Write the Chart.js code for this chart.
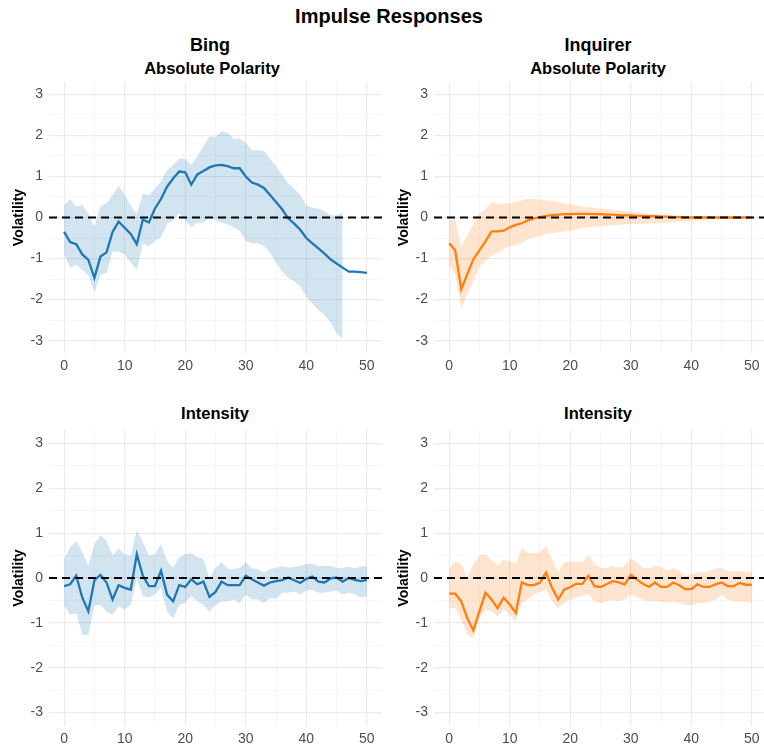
<!DOCTYPE html>
<html>
<head>
<meta charset="utf-8">
<title>Impulse Responses</title>
<script src="https://cdn.jsdelivr.net/npm/chart.js@4.4.1/dist/chart.umd.min.js"></script>
<style>
  html, body { margin: 0; padding: 0; background: #fff; overflow: hidden; }
  body { width: 764px; height: 750px; position: relative; font-family: "Liberation Sans", Arial, sans-serif; }
  .lbl { position: absolute; transform: translate(-50%, -50%); font-weight: bold; color: #000; white-space: nowrap; line-height: 1; }
  canvas { position: absolute; }
</style>
</head>
<body>
<div class="lbl" style="left:389px;top:16px;font-size:20px">Impulse Responses</div>
<div class="lbl" style="left:210px;top:45px;font-size:18px">Bing</div>
<div class="lbl" style="left:212px;top:68px;font-size:16.5px">Absolute Polarity</div>
<div class="lbl" style="left:598px;top:45px;font-size:18px">Inquirer</div>
<div class="lbl" style="left:598px;top:68px;font-size:16.5px">Absolute Polarity</div>
<div class="lbl" style="left:215px;top:413px;font-size:16.5px">Intensity</div>
<div class="lbl" style="left:598px;top:413px;font-size:16.5px">Intensity</div>

<canvas id="bingPolarity" width="382" height="294" style="left:0;top:82px"></canvas>
<canvas id="inquirerPolarity" width="382" height="294" style="left:385px;top:82px"></canvas>
<canvas id="bingIntensity" width="382" height="320" style="left:0;top:430px"></canvas>
<canvas id="inquirerIntensity" width="382" height="320" style="left:385px;top:430px"></canvas>

<script>
// horizons (x axis) and tick positions
const horizons = [0,1,2,3,4,5,6,7,8,9,10,11,12,13,14,15,16,17,18,19,20,21,22,23,24,25,
  26,27,28,29,30,31,32,33,34,35,36,37,38,39,40,41,42,43,44,45,46,47,48,49,50];
const xTicks = [0,5,10,15,20,25,30,35,40,45,50];
const yTicks = [-3,-2.5,-2,-1.5,-1,-0.5,0,0.5,1,1.5,2,2.5,3];
const zeroLineX = [-2.5, 52.5];

// Bing - Absolute Polarity
const bingPolarityIrf = [-0.35,-0.6,-0.65,-0.9,-1.03,-1.47,-0.95,-0.85,-0.35,-0.1,
  -0.25,-0.4,-0.65,-0.05,-0.12,0.22,0.45,0.75,0.95,1.12,
  1.1,0.8,1.05,1.13,1.22,1.27,1.28,1.25,1.2,1.2,
  1.0,0.85,0.8,0.72,0.55,0.38,0.2,-0.02,-0.15,-0.3,
  -0.5,-0.63,-0.75,-0.88,-1.02,-1.12,-1.22,-1.32,-1.32,-1.33,-1.35];
const bingPolarityUpper = [0.3,0.45,0.27,0.3,0.1,-0.22,0.28,0.35,0.55,0.78,
  0.55,0.28,0.08,0.58,0.55,0.7,0.88,1.15,1.28,1.43,
  1.43,1.27,1.5,1.73,1.98,1.96,2.1,2.06,1.92,1.92,
  1.82,1.64,1.64,1.62,1.43,1.25,1.04,0.83,0.7,0.55,
  0.3,0.24,0.22,0.15,0.05,0.05,0.13,null,null,null,null];
const bingPolarityLower = [-0.9,-1.22,-1.15,-1.27,-1.4,-1.82,-1.4,-1.35,-0.83,-0.83,
  -0.9,-1.1,-1.27,-0.63,-0.7,-0.57,-0.48,-0.15,-0.07,0.1,
  -0.07,-0.23,-0.13,-0.12,0.0,-0.07,-0.12,-0.17,-0.23,-0.32,
  -0.57,-0.63,-0.63,-0.7,-0.85,-1.1,-1.32,-1.47,-1.55,-1.68,
  -1.93,-2.1,-2.25,-2.38,-2.55,-2.83,-2.95,null,null,null,null];

// Inquirer - Absolute Polarity
const inquirerPolarityIrf = [-0.63,-0.8,-1.75,-1.38,-1.02,-0.8,-0.58,-0.34,-0.34,-0.32,
  -0.24,-0.18,-0.14,-0.07,-0.02,0.01,0.04,0.06,0.07,0.08,
  0.08,0.09,0.09,0.09,0.08,0.08,0.07,0.07,0.06,0.05,
  0.05,0.04,0.04,0.03,0.03,0.02,0.02,0.01,0.01,0.01,
  0,0,0,0,0,0,0,0,0,0,0];
const inquirerPolarityUpper = [-0.07,-0.05,-0.7,-0.45,-0.15,0.1,0.2,0.38,0.34,0.34,
  0.35,0.38,0.42,0.45,0.45,0.44,0.42,0.4,0.38,0.35,
  0.32,0.3,0.27,0.25,0.24,0.22,0.2,0.19,0.17,0.16,
  0.14,0.12,0.11,0.09,0.08,0.07,0.06,0.06,0.05,0.04,
  0.04,0.03,0.03,0.02,0.02,0.02,0.01,0.01,0.01,0.01,0.01];
const inquirerPolarityLower = [-1.15,-1.38,-2.2,-1.88,-1.55,-1.22,-1.05,-0.93,-0.85,-0.77,
  -0.7,-0.68,-0.62,-0.53,-0.49,-0.45,-0.4,-0.38,-0.36,-0.34,
  -0.32,-0.29,-0.26,-0.24,-0.22,-0.21,-0.2,-0.19,-0.18,-0.17,
  -0.16,-0.15,-0.15,-0.14,-0.14,-0.13,-0.12,-0.11,-0.1,-0.09,
  -0.08,-0.07,-0.06,-0.05,-0.04,-0.04,-0.03,-0.03,-0.02,-0.02,-0.02];

// Bing - Intensity
const bingIntensityIrf = [-0.18,-0.14,0.05,-0.44,-0.74,-0.05,0.07,-0.1,-0.48,-0.16,
  -0.22,-0.26,0.53,0.05,-0.18,-0.18,0.16,-0.37,-0.52,-0.16,
  -0.2,-0.03,-0.14,-0.08,-0.42,-0.31,-0.08,-0.16,-0.16,-0.16,
  0.05,-0.03,-0.1,-0.17,-0.1,-0.07,-0.05,0.01,-0.05,-0.11,
  -0.02,0.03,-0.08,-0.1,-0.01,0.01,-0.08,0.0,-0.04,-0.07,-0.04];
const bingIntensityUpper = [0.42,0.68,0.83,0.57,0.27,0.76,0.95,0.83,0.5,0.65,
  0.53,0.5,1.06,0.8,0.5,0.53,0.76,0.38,0.23,0.46,
  0.53,0.55,0.46,0.42,0.0,0.23,0.35,0.2,0.2,0.23,
  0.35,0.22,0.2,0.12,0.2,0.23,0.27,0.23,0.25,0.27,
  0.31,0.32,0.27,0.27,0.27,0.22,0.23,0.25,0.22,0.25,0.27];
const bingIntensityLower = [-0.6,-0.83,-0.78,-1.27,-1.27,-0.61,-0.6,-0.75,-0.82,-0.63,
  -0.7,-0.6,0.0,-0.4,-0.44,-0.37,-0.22,-0.75,-0.9,-0.6,
  -0.56,-0.4,-0.52,-0.6,-0.75,-0.6,-0.52,-0.52,-0.48,-0.56,
  -0.37,-0.48,-0.48,-0.56,-0.44,-0.46,-0.33,-0.33,-0.3,-0.37,
  -0.28,-0.26,-0.33,-0.33,-0.3,-0.28,-0.37,-0.33,-0.37,-0.44,-0.4];

// Inquirer - Intensity
const inquirerIntensityIrf = [-0.35,-0.35,-0.52,-0.9,-1.17,-0.74,-0.33,-0.48,-0.67,-0.44,
  -0.59,-0.78,-0.1,-0.16,-0.16,-0.1,0.12,-0.22,-0.48,-0.26,
  -0.2,-0.13,-0.13,0.05,-0.18,-0.2,-0.14,-0.07,-0.1,-0.14,
  0.07,-0.03,-0.13,-0.2,-0.1,-0.2,-0.2,-0.1,-0.16,-0.25,
  -0.25,-0.14,-0.2,-0.2,-0.14,-0.1,-0.18,-0.18,-0.11,-0.15,-0.15];
const inquirerIntensityUpper = [0.2,0.38,0.31,0.0,0.31,0.5,0.52,0.4,0.27,0.42,
  0.38,0.31,0.68,0.56,0.56,0.57,0.72,0.42,0.12,0.35,
  0.37,0.37,0.35,0.52,0.31,0.23,0.22,0.27,0.23,0.27,
  0.44,0.35,0.23,0.2,0.27,0.25,0.17,0.22,0.17,0.05,
  0.08,0.14,0.12,0.16,0.22,0.22,0.16,0.14,0.16,0.14,0.14];
const inquirerIntensityLower = [-0.67,-0.67,-0.93,-1.27,-1.33,-0.9,-0.7,-0.74,-0.86,-0.7,
  -0.82,-0.97,-0.56,-0.48,-0.37,-0.31,-0.26,-0.52,-0.67,-0.56,
  -0.48,-0.44,-0.4,-0.35,-0.52,-0.56,-0.52,-0.48,-0.52,-0.48,
  -0.37,-0.43,-0.48,-0.52,-0.5,-0.53,-0.56,-0.52,-0.56,-0.6,
  -0.6,-0.56,-0.56,-0.53,-0.48,-0.37,-0.48,-0.52,-0.52,-0.53,-0.56];

const BLUE = '#1f77b4';
const ORANGE = '#ff7f0e';
const FONT = '"Liberation Sans", Arial, sans-serif';

const toPoints = (ys) => horizons.map((h, i) => ({ x: h, y: ys[i] }));

function mountPanel(id, irf, lower, upper, color, band, xAxisHeight) {
  const canvas = document.getElementById(id);
  return new Chart(canvas, {
    type: 'line',
    data: {
      datasets: [
        { data: toPoints(lower), borderWidth: 0, pointRadius: 0, fill: false, order: 3 },
        { data: toPoints(upper), borderWidth: 0, pointRadius: 0, fill: '-1', backgroundColor: band, order: 2 },
        { data: toPoints(irf), borderColor: color, borderWidth: 2.3, pointRadius: 0, tension: 0, fill: false, order: 1 },
        { data: zeroLineX.map(x => ({ x, y: 0 })), borderColor: '#000', borderWidth: 1.8,
          borderDash: [8, 5], pointRadius: 0, fill: false, order: 0 },
      ],
    },
    options: {
      responsive: false,
      animation: false,
      layout: { padding: 0 },
      plugins: { legend: { display: false }, tooltip: { enabled: false } },
      scales: {
        x: {
          type: 'linear', min: -2.5, max: 52.5,
          afterBuildTicks: (s) => { s.ticks = xTicks.map(v => ({ value: v })); },
          afterFit: (s) => { s.height = xAxisHeight; s.paddingLeft = 0; s.paddingRight = 0; },
          border: { display: false },
          grid: {
            drawTicks: false,
            color: (c) => (c.tick && c.tick.value % 10 === 0 ? '#ebebeb' : '#f4f4f4'),
            lineWidth: (c) => (c.tick && c.tick.value % 10 === 0 ? 1.2 : 0.8),
          },
          ticks: {
            padding: 5, color: '#4d4d4d', font: { family: FONT, size: 14 },
            maxRotation: 0, autoSkip: false,
            callback: (v) => (v % 10 === 0 ? v : ''),
          },
        },
        y: {
          min: -3.3, max: 3.3,
          afterBuildTicks: (s) => { s.ticks = yTicks.map(v => ({ value: v })); },
          afterFit: (s) => { s.width = 49; s.paddingTop = 0; s.paddingBottom = 0; },
          border: { display: false },
          grid: {
            drawTicks: false,
            color: (c) => (c.tick && c.tick.value % 1 === 0 ? '#ebebeb' : '#f4f4f4'),
            lineWidth: (c) => (c.tick && c.tick.value % 1 === 0 ? 1.2 : 0.8),
          },
          ticks: {
            padding: 6, color: '#4d4d4d', font: { family: FONT, size: 14 },
            autoSkip: false,
            callback: (v) => (v % 1 === 0 ? v : ''),
          },
          title: {
            display: true, text: 'Volatility', color: '#000',
            font: { family: FONT, size: 14, weight: 'bold' },
            padding: { top: 11, bottom: 0 },
          },
        },
      },
    },
  });
}

mountPanel('bingPolarity', bingPolarityIrf, bingPolarityLower, bingPolarityUpper,
  BLUE, 'rgba(31,119,180,0.2)', 23);
mountPanel('inquirerPolarity', inquirerPolarityIrf, inquirerPolarityLower, inquirerPolarityUpper,
  ORANGE, 'rgba(255,127,14,0.2)', 23);
mountPanel('bingIntensity', bingIntensityIrf, bingIntensityLower, bingIntensityUpper,
  BLUE, 'rgba(31,119,180,0.2)', 24);
mountPanel('inquirerIntensity', inquirerIntensityIrf, inquirerIntensityLower, inquirerIntensityUpper,
  ORANGE, 'rgba(255,127,14,0.2)', 24);
</script>
</body>
</html>
